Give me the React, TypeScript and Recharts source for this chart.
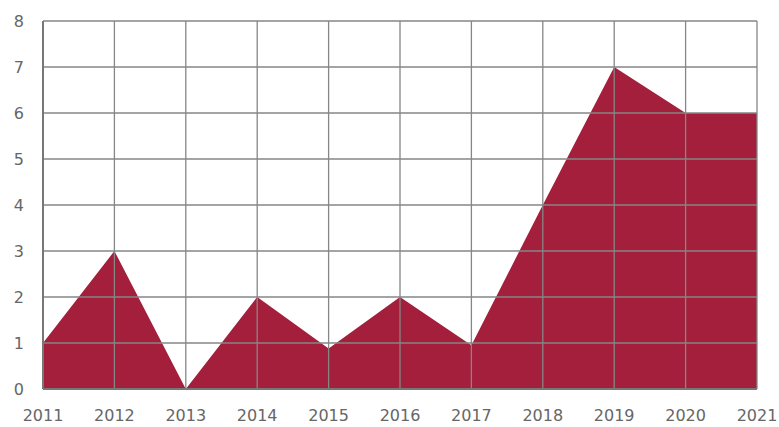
import React from 'react';
import { Area, AreaChart, CartesianGrid, XAxis, YAxis } from 'recharts';

const years = ['2011', '2012', '2013', '2014', '2015', '2016', '2017', '2018', '2019', '2020', '2021'];
const counts = [1, 3, 0, 2, 0.88, 2, 0.95, 4, 7, 6, 6];
const yTicks = [0, 1, 2, 3, 4, 5, 6, 7, 8];

const data = years.map((year, i) => ({ year, count: counts[i] }));

const tickStyle = { fill: '#666', fontSize: 16, fontFamily: 'DejaVu Sans' };

export default function App() {
  return (
    <div style={{ width: 779, height: 427 }}>
      <style>{'body{margin:0}'}</style>
      <AreaChart width={779} height={427} data={data} margin={{ top: 21, right: 22, left: 0, bottom: 0 }}>
        <Area
          type="linear"
          dataKey="count"
          stroke="none"
          fill="#A31F3B"
          fillOpacity={1}
          isAnimationActive={false}
        />
        <CartesianGrid stroke="#868686" strokeWidth={1.3} zIndex={200} />
        <XAxis
          dataKey="year"
          height={38}
          axisLine={{ stroke: '#777', strokeWidth: 2 }}
          tickLine={false}
          tickMargin={15}
          tick={tickStyle}
          interval={0}
        />
        <YAxis
          width={43}
          domain={[0, 8]}
          ticks={yTicks}
          axisLine={{ stroke: '#777', strokeWidth: 2 }}
          tickLine={false}
          tickMargin={13}
          tick={tickStyle}
        />
      </AreaChart>
    </div>
  );
}
